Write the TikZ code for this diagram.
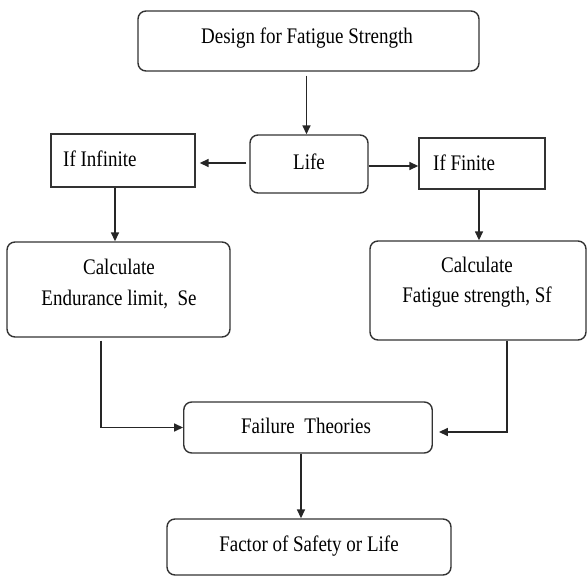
\documentclass[tikz,border=0pt]{standalone}
\usepackage{fontspec}
\setmainfont{Liberation Serif}
\usetikzlibrary{arrows.meta}
\tikzset{
  box/.style={draw=black!80, line width=1.4pt, fill=white, inner sep=0pt},
  rbox/.style={box, rounded corners=8pt},
  sbox/.style={box, rounded corners=0pt},
  lbl/.style={font=\fontsize{19}{26}\selectfont, align=center, inner sep=0pt, yscale=1.17, transform shape},
  conn/.style={draw=black!85, line width=1.5pt, -{Triangle[length=9pt,width=8pt]}}
}
\begin{document}
\begin{tikzpicture}[x=1pt,y=-1pt]
\useasboundingbox (0,0) rectangle (587,577);
\node[rbox, minimum width=341pt, minimum height=60pt] (top) at (308.5,41) {};
\node[lbl] (topT) at (307,38) {Design for Fatigue Strength};
\node[rbox, minimum width=118pt, minimum height=58pt] (life) at (309,164) {};
\node[lbl] (lifeT) at (309,162) {Life};
\node[sbox, minimum width=144pt, minimum height=53pt] (inf) at (123,160.5) {};
\node[lbl, anchor=west] (infT) at (63,159) {If Infinite};
\node[sbox, minimum width=126pt, minimum height=51pt] (fin) at (482,163.5) {};
\node[lbl, anchor=west] (finT) at (433,163) {If Finite};
\node[rbox, minimum width=223pt, minimum height=95pt] (endur) at (118.5,289.5) {};
\node[lbl] (endurT) at (119,284) {Calculate\\Endurance limit,\ \ Se};
\node[rbox, minimum width=216pt, minimum height=99pt] (fatig) at (478,290.5) {};
\node[lbl] (fatigT) at (477,282) {Calculate\\Fatigue strength, Sf};
\node[rbox, minimum width=248.5pt, minimum height=51pt] (fail) at (308,427.5) {};
\node[lbl] (failT) at (306,426) {Failure\ \ Theories};
\node[rbox, minimum width=284pt, minimum height=56pt] (fac) at (309,547) {};
\node[lbl] (facT) at (309,546) {Factor of Safety or Life};

\draw[conn, shorten <=4pt] ([xshift=-2pt]top.south) -- ([xshift=-2pt]top.south |- life.north);
\draw[conn, shorten <=3pt, shorten >=4pt] ([yshift=1pt]life.west) -- ([yshift=1pt]life.west -| inf.east);
\draw[conn] ([yshift=-2pt]life.east) -- ([yshift=-2pt]life.east -| fin.west);
\draw[conn] ([xshift=-8pt]inf.south) -- ([xshift=-8pt]inf.south |- endur.north);
\draw[conn] ([xshift=-3pt]fin.south) -- ([xshift=-3pt]fin.south |- fatig.north);
\draw[conn, shorten <=3pt] ([xshift=-17.5pt]endur.south) |- (fail.west);
\draw[conn, shorten >=6pt] ([xshift=29pt]fatig.south) |- ([yshift=-4.5pt]fail.east);
\draw[conn] ([xshift=-7pt]fail.south) -- ([xshift=-7pt]fail.south |- fac.north);
\end{tikzpicture}
\end{document}
